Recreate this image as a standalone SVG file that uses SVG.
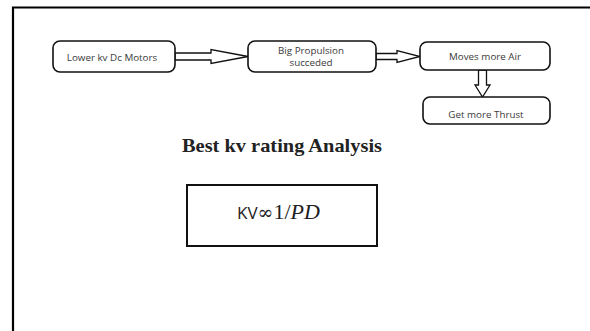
<svg xmlns="http://www.w3.org/2000/svg" width="590" height="331" viewBox="0 0 590 331">
  <style>
    .frame { stroke: #000; stroke-width: 2.2; fill: none; }
    .node rect { fill: #fff; stroke: #111; stroke-width: 1.6; }
    .node text { font-family: "Open Sans", "Liberation Sans", sans-serif; font-size: 9.8px; fill: #3a3a3a; text-anchor: middle; }
    .arrow { fill: #fff; stroke: #111; stroke-width: 1.3; stroke-linejoin: miter; }
    .title { font-family: "Liberation Serif", serif; font-weight: bold; font-size: 19px; fill: #222; }
    .formula rect { fill: #fff; stroke: #111; stroke-width: 2; }
  </style>
  <rect width="590" height="331" fill="#fff"/>
  <!-- page border: top and left edges only -->
  <path class="frame" d="M13,331 L13,7.5 L590,7.5"/>

  <g id="connectors">
    <path class="arrow" d="M175,53 L211,53 L211,49.5 L248,56.5 L211,63.5 L211,60 L175,60 Z"/>
    <path class="arrow" d="M376,53.5 L397,53.5 L397,50.5 L420,56.5 L397,62.5 L397,59.5 L376,59.5 Z"/>
    <path class="arrow" d="M478.5,70 L478.5,85 L475,85 L482.5,97 L490,85 L486.5,85 L486.5,70 Z"/>
  </g>

  <g id="lower-kv" class="node">
    <rect x="53" y="41" width="122" height="31" rx="7"/>
    <text x="112" y="60.5">Lower kv Dc Motors</text>
  </g>
  <g id="big-propulsion" class="node">
    <rect x="248" y="41" width="128" height="31" rx="7"/>
    <text x="311" y="53.5">Big Propulsion</text>
    <text x="311" y="66">succeded</text>
  </g>
  <g id="moves-air" class="node">
    <rect x="420" y="42" width="130" height="28" rx="7"/>
    <text x="485" y="60">Moves more Air</text>
  </g>
  <g id="more-thrust" class="node">
    <rect x="423" y="97" width="127" height="27" rx="7"/>
    <text x="486" y="118">Get more Thrust</text>
  </g>

  <text class="title" x="182" y="152" textLength="200" lengthAdjust="spacingAndGlyphs">Best kv rating Analysis</text>

  <g id="formula" class="formula">
    <rect x="187" y="185" width="190" height="61"/>
    <text x="237" y="219" fill="#222"><tspan font-family="Open Sans, Liberation Sans, sans-serif" font-size="17">KV</tspan><tspan font-family="DejaVu Serif, serif" font-size="19">∞</tspan><tspan font-family="Liberation Serif, serif" font-size="22">1/</tspan><tspan font-family="Liberation Serif, serif" font-style="italic" font-size="22">PD</tspan></text>
  </g>
</svg>
